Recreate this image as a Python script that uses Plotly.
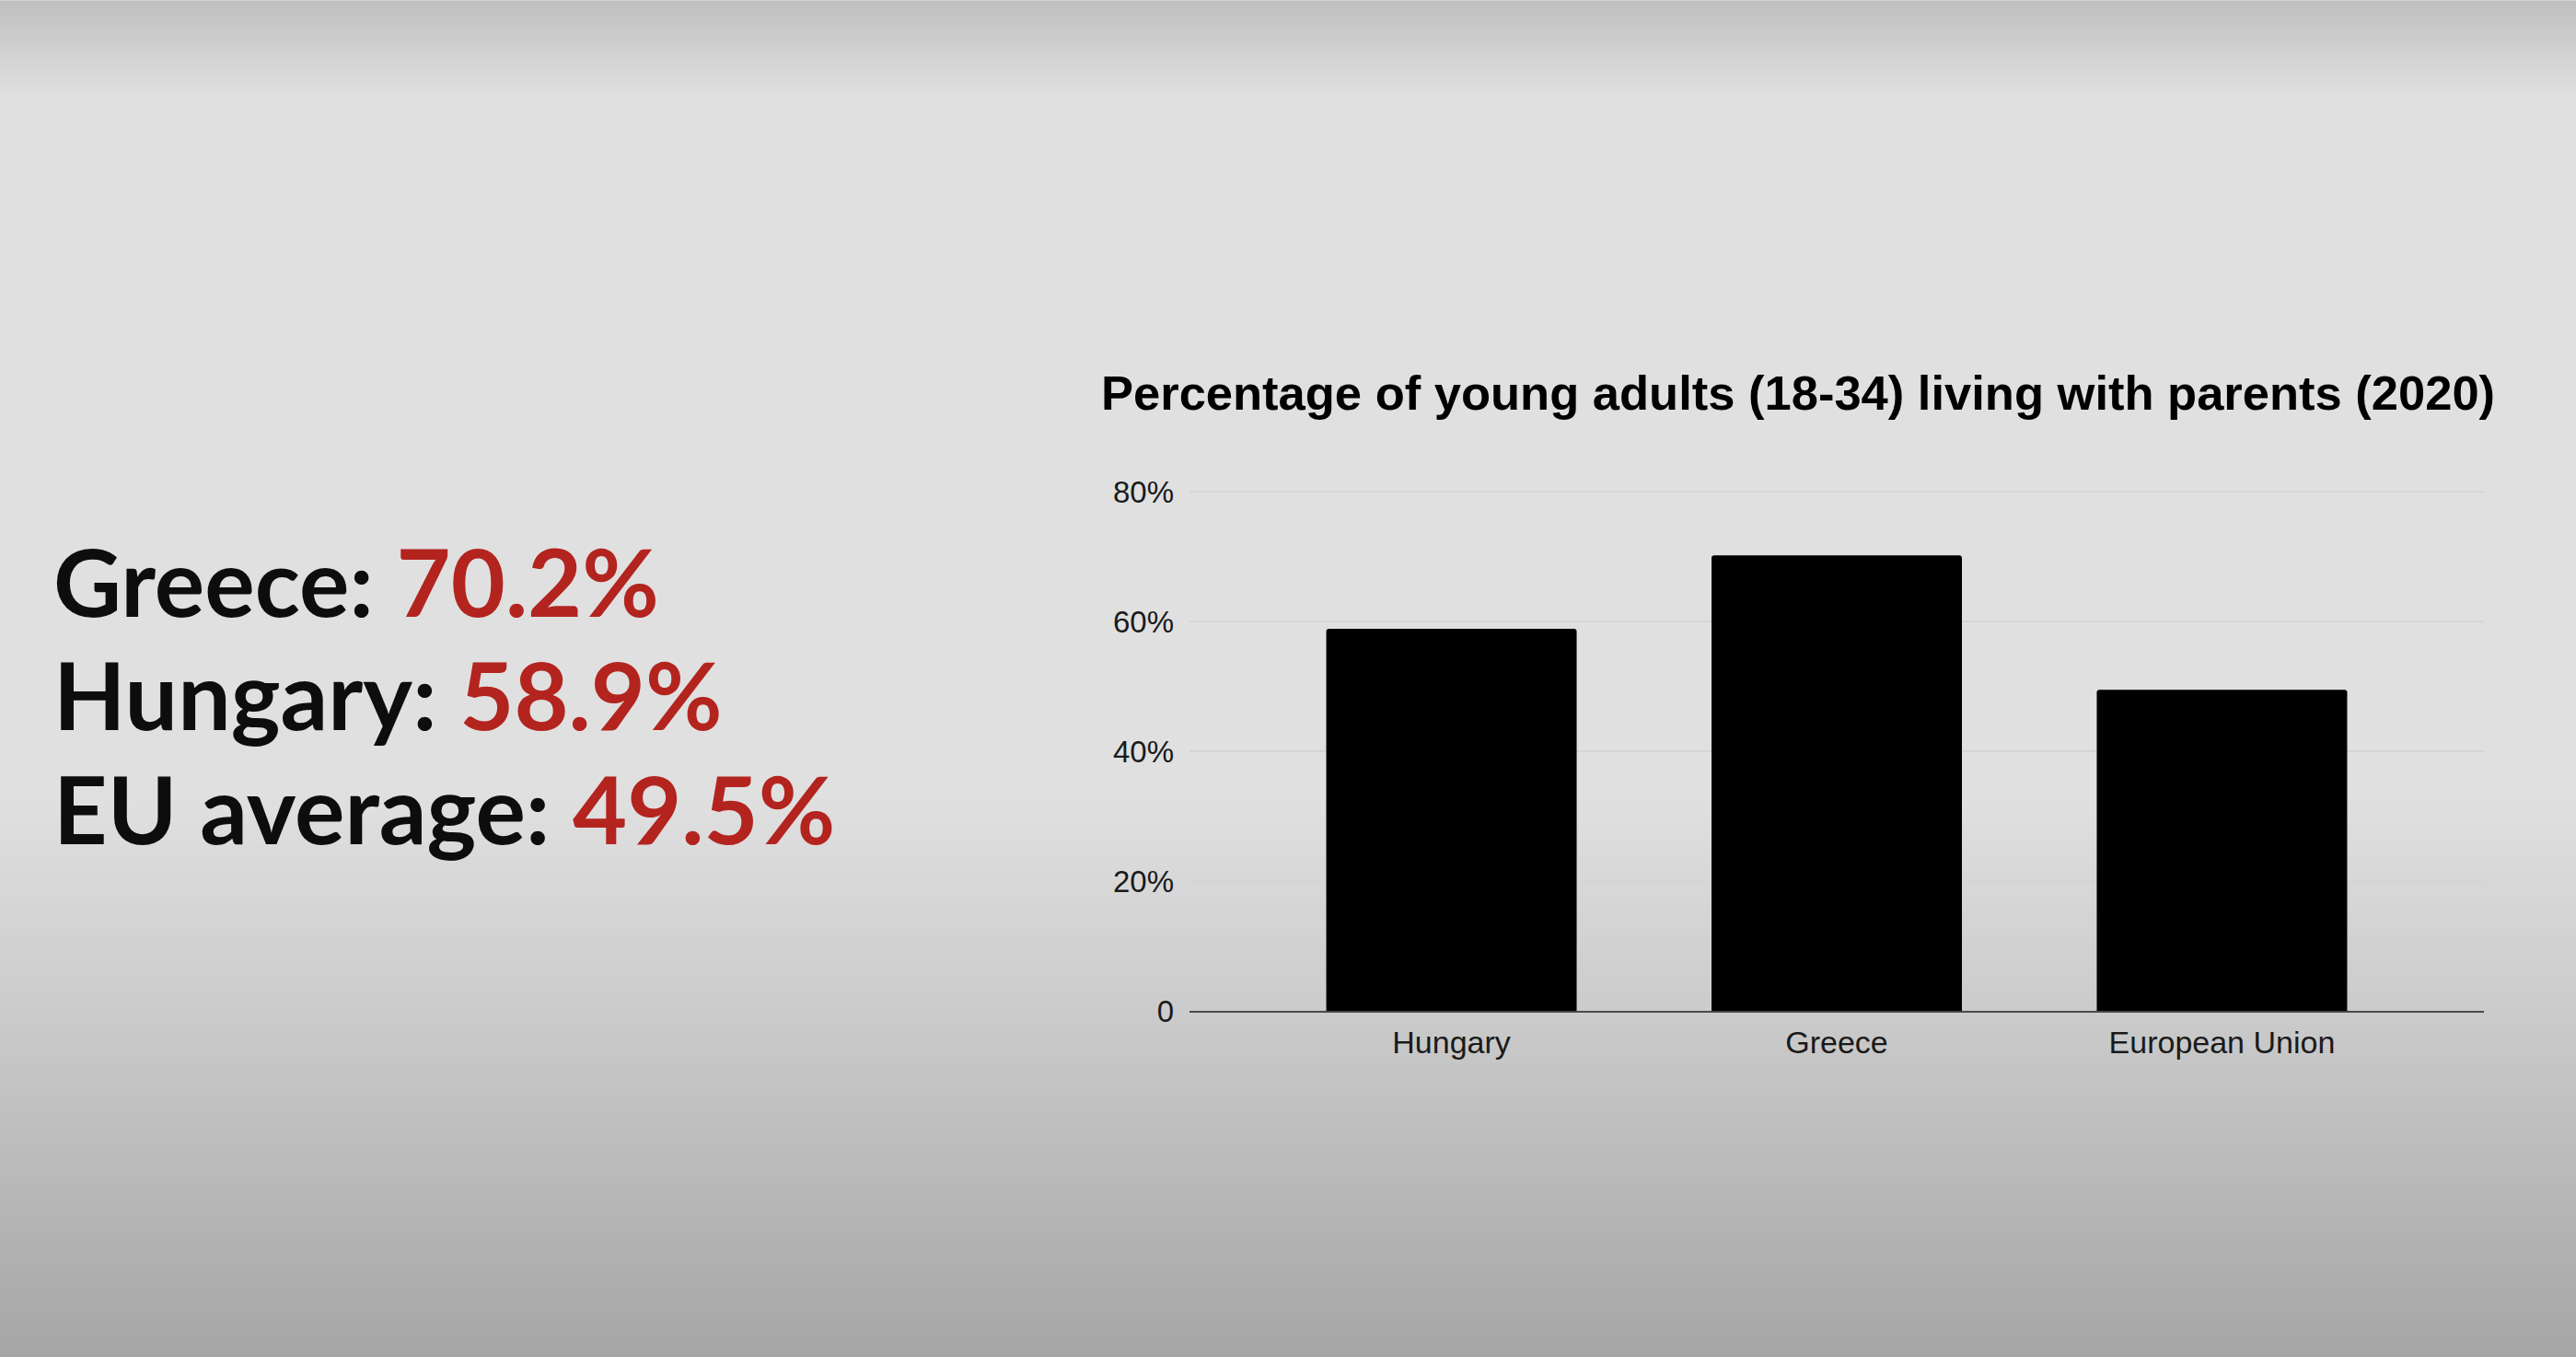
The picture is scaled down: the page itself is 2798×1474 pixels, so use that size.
import plotly.graph_objects as go

W, H = 2798, 1474

categories = ['Hungary', 'Greece', 'European Union']
share_living_with_parents = [58.9, 70.2, 49.5]

y_tick_vals = [0, 20, 40, 60, 80]
y_tick_text = ['0', '20%', '40%', '60%', '80%']

side_labels = ['Greece:', 'Hungary:', 'EU average:']
side_values = ['70.2%', '58.9%', '49.5%']

TITLE = 'Percentage of young adults (18-34) living with parents (2020)'

# plot area in pixels (y range runs a bit past 80 so the top gridline shows)
Y_MAX = 80.6
PL, PR, PB = 1292, 2698, 1098
PT = PB - (PB - 534) * Y_MAX / 80


def px_to_paper(px, py):
    return (px - PL) / (PR - PL), (PB - py) / (PB - PT)


def bg_shade(t):
    # vertical background gradient of the slide, t = 0 top .. 1 bottom
    stops = [(0.0, 192), (0.07, 224), (0.59, 224), (0.75, 203), (1.0, 166)]
    for (t0, c0), (t1, c1) in zip(stops, stops[1:]):
        if t <= t1:
            c = c0 + (c1 - c0) * (t - t0) / (t1 - t0)
            return f'rgb({int(c)},{int(c)},{int(c)})'
    return f'rgb({stops[-1][1]},{stops[-1][1]},{stops[-1][1]})'


fig = go.Figure(go.Bar(
    x=categories,
    y=share_living_with_parents,
    marker=dict(color='#000000', line=dict(width=0)),
    hoverinfo='skip',
))

shapes = []
n_bands = 180
x0, _ = px_to_paper(0, 0)
x1, _ = px_to_paper(W, 0)
for i in range(n_bands):
    ya = H * i / n_bands
    yb = H * (i + 1) / n_bands + 1
    _, p0 = px_to_paper(0, ya)
    _, p1 = px_to_paper(0, yb)
    shapes.append(dict(
        type='rect', xref='paper', yref='paper', layer='below',
        x0=x0, x1=x1, y0=p1, y1=p0,
        fillcolor=bg_shade((i + 0.5) / n_bands), line=dict(width=0),
    ))

annotations = []
line_y = [630, 753, 877]
for lab, val, py in zip(side_labels, side_values, line_y):
    ax, ay = px_to_paper(56, py)
    annotations.append(dict(
        xref='paper', yref='paper', x=ax, y=ay,
        xanchor='left', yanchor='middle', showarrow=False,
        text=f"<span style='color:#0d0d0d'>{lab}</span> "
             f"<span style='color:#b3241f'>{val}</span>",
        font=dict(family='Lato', size=102, weight=700),
    ))

fig.update_layout(
    width=W, height=H,
    margin=dict(l=PL, r=W - PR, t=PT, b=H - PB, autoexpand=False),
    paper_bgcolor='#e0e0e0',
    plot_bgcolor='rgba(0,0,0,0)',
    showlegend=False,
    bargap=0.35,
    barcornerradius=3,
    title=dict(
        text=TITLE, x=1196 / W, xanchor='left', xref='container',
        y=1 - 427 / H, yanchor='middle', yref='container',
        font=dict(family='Liberation Sans, Arial', size=52.5, color='#000000', weight=700),
    ),
    shapes=shapes,
    annotations=annotations,
)

fig.update_xaxes(
    range=[-0.68, 2.68],
    showgrid=False,
    showline=True, linecolor='#4a4a4a', linewidth=2,
    ticks='', ticklabelstandoff=3,
    tickfont=dict(family='Liberation Sans, Arial', size=34, color='#1a1a1a'),
    fixedrange=True,
)
fig.update_yaxes(
    range=[0, Y_MAX],
    tickvals=y_tick_vals, ticktext=y_tick_text,
    showgrid=True, gridcolor='#d5d5d5', gridwidth=2,
    zeroline=False, showline=False,
    ticks='', ticklabelstandoff=16,
    tickfont=dict(family='Liberation Sans, Arial', size=33, color='#1a1a1a'),
    fixedrange=True,
)

fig.write_html(
    'out.html',
    config=dict(displayModeBar=False),
    post_script="document.body.style.margin='0';document.body.style.overflow='hidden';",
)
